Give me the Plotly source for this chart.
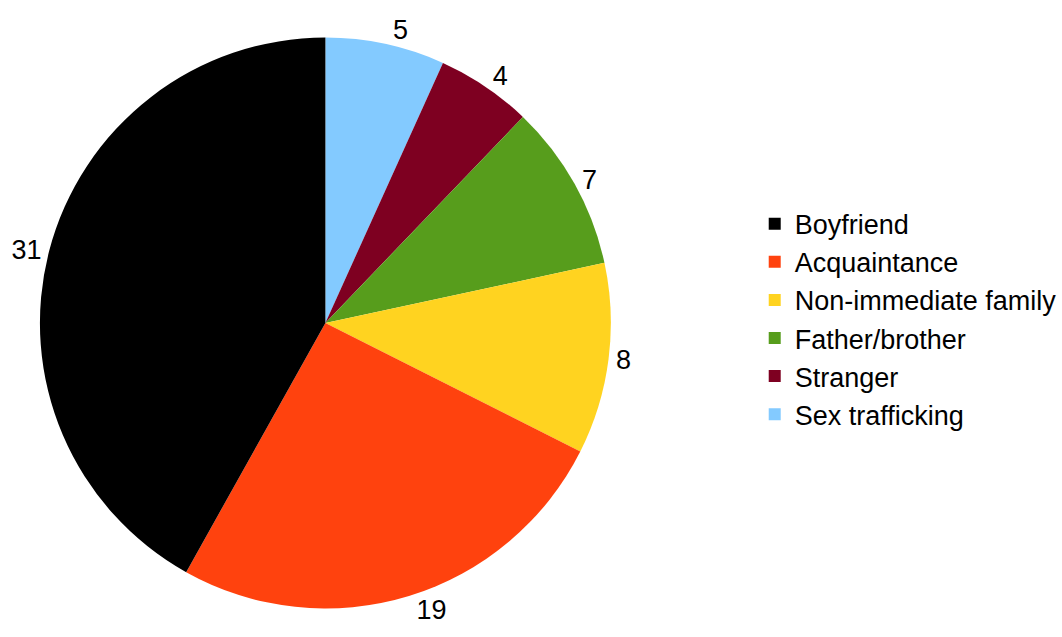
import plotly.graph_objects as go

# Relationship of perpetrator, counts per category (legend order)
labels = ["Boyfriend", "Acquaintance", "Non-immediate family",
          "Father/brother", "Stranger", "Sex trafficking"]
counts = [31, 19, 8, 7, 4, 5]
colors = ["#000000", "#FF420E", "#FFD320", "#579D1C", "#7E0021", "#83CAFF"]

W, H = 1062, 637
cx, cy, r = 326, 323, 286
FONT = "Liberation Sans, Arial, sans-serif"

# Slices run clockwise from 12 o'clock starting with the last category,
# so the trace gets the lists reversed and the legend flips them back.
fig = go.Figure(go.Pie(
    labels=labels[::-1],
    values=counts[::-1],
    sort=False,
    direction="clockwise",
    rotation=0,
    marker=dict(colors=colors[::-1], line=dict(width=0)),
    textinfo="value",
    textposition="outside",
    textfont=dict(family=FONT, size=27, color="#000000"),
    domain=dict(x=[(cx - r) / W, (cx + r) / W],
                y=[(H - cy - r) / H, (H - cy + r) / H]),
    hoverinfo="label+value+percent",
))

fig.update_layout(
    width=W, height=H,
    margin=dict(l=0, r=0, t=0, b=0),
    paper_bgcolor="#FFFFFF",
    plot_bgcolor="#FFFFFF",
    showlegend=True,
    legend=dict(
        x=0.712, y=0.499, xanchor="left", yanchor="middle",
        font=dict(family=FONT, size=27, color="#000000"),
        tracegroupgap=0,
        itemwidth=30,
        traceorder="reversed",
    ),
)

fig.write_html("out.html")
